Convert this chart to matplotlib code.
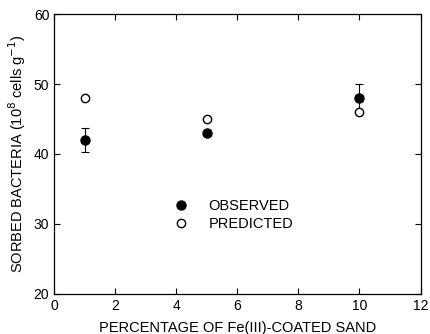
import matplotlib
matplotlib.use("Agg")
import matplotlib.pyplot as plt
from matplotlib.lines import Line2D

plt.rcParams['font.family'] = ['Liberation Sans', 'DejaVu Sans']

fe_percent = [1, 5, 10]
observed = [42, 43, 48]
observed_err = [1.7, 0.0, 2.0]
predicted = [48, 45, 46]


def main():
    fig = plt.figure(figsize=(4.3, 3.34), dpi=100)
    ax = fig.add_axes([0.126, 0.12, 0.852, 0.838])

    ax.errorbar(fe_percent, observed, yerr=observed_err, fmt='o', color='black',
                markersize=6.5, elinewidth=0.8, capsize=3, capthick=0.8, zorder=2)
    ax.plot(fe_percent, predicted, 'o', markerfacecolor='white', markeredgecolor='black',
            markersize=6, markeredgewidth=1.0, zorder=3)

    ax.set_xlim(0, 12)
    ax.set_ylim(20, 60)
    ax.set_xticks(range(0, 13, 2))
    ax.set_yticks(range(20, 61, 10))
    ax.tick_params(direction='in', top=True, right=True, length=4, width=0.8, labelsize=10)
    for s in ax.spines.values():
        s.set_linewidth(0.9)

    ax.set_xlabel('PERCENTAGE OF Fe(III)-COATED SAND', fontsize=10.5, labelpad=6)
    ax.set_ylabel('SORBED BACTERIA (10$^8$ cells g$^{-1}$)', fontsize=10.5, labelpad=4)

    handles = [
        Line2D([], [], marker='o', linestyle='none', color='black', markersize=6.5),
        Line2D([], [], marker='o', linestyle='none', markerfacecolor='white',
               markeredgecolor='black', markersize=6, markeredgewidth=1.0),
    ]
    ax.legend(handles, ['OBSERVED', 'PREDICTED'], loc=(0.31, 0.205), frameon=False,
              fontsize=10.5, handletextpad=1.4, labelspacing=0.25, handlelength=1.0)

    plt.savefig("out.png", dpi=100)


if __name__ == "__main__":
    main()
